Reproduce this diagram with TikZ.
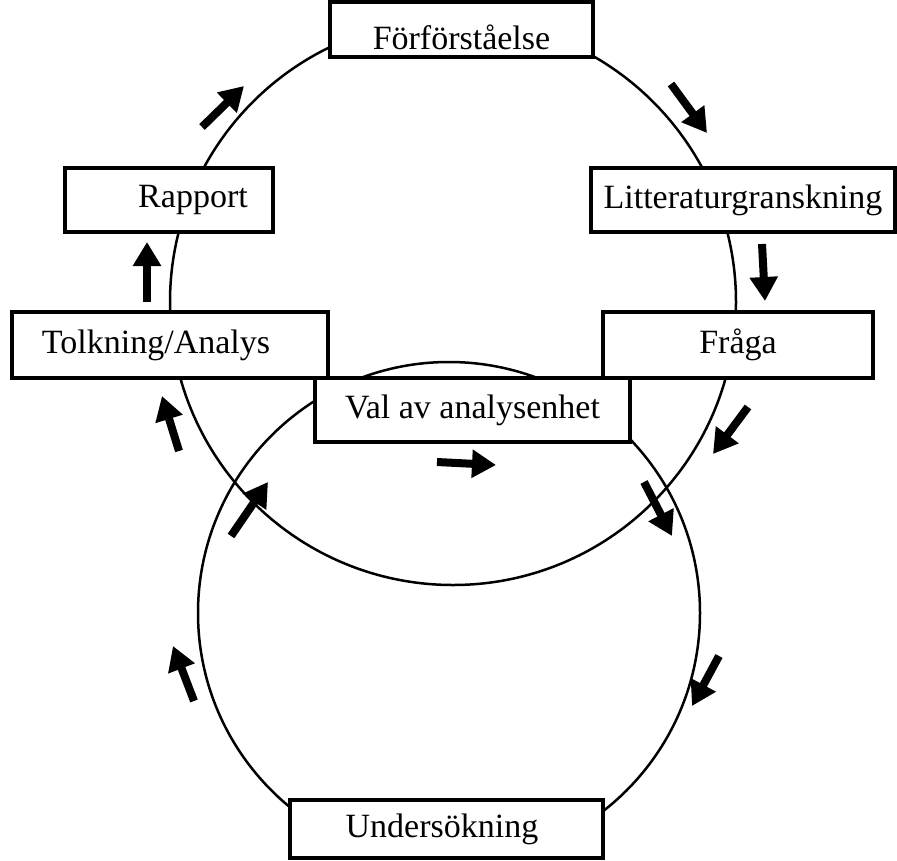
\documentclass[tikz,border=0pt]{standalone}
\usepackage{fontspec}
\setmainfont{Liberation Serif}
\usetikzlibrary{arrows.meta}
\begin{document}
\begin{tikzpicture}[x=1pt,y=-1pt,
  box/.style={draw,fill=white,line width=4pt,inner sep=0pt,rectangle,
    font=\fontsize{34}{40}\selectfont},
  ring/.style={draw,line width=2.5pt},
  blk/.style={line width=8pt,-{Triangle[length=24pt,width=27pt]}}]
\useasboundingbox (0,0) rectangle (897,860);
% cycles
\begin{scope}
\clip (0,0) rectangle (897,855);
\draw[ring] (453,302) circle[radius=283];
\draw[ring] (449,613) circle[radius=251];
\end{scope}
% boxes
\node[box,minimum width=263pt,minimum height=55pt] (forf) at (461.5,29.5) {\raisebox{-20pt}[0pt][0pt]{Förförståelse}};
\node[box,minimum width=208pt,minimum height=64pt] (rapp) at (169,200) {\hspace*{48pt}Rapport};
\node[box,minimum width=304pt,minimum height=64pt] (litt) at (743,200) {Litteraturgranskning};
\node[box,minimum width=316pt,minimum height=66pt] (tolk) at (170,345) {Tolkning/Analys\hspace*{28pt}};
\node[box,minimum width=270pt,minimum height=66pt] (fraga) at (738,345) {Fråga};
\node[box,minimum width=315pt,minimum height=64pt] (val) at (472.5,410) {Val av analysenhet};
\node[box,minimum width=313pt,minimum height=58pt] (unde) at (446.5,829) {Undersökning\hspace*{9pt}};
% arrows
\coordinate (a1t) at (202,127); \coordinate (a1h) at (244,86);
\coordinate (a2t) at (671,84);  \coordinate (a2h) at (707,133);
\coordinate (a3t) at (762,244); \coordinate (a3h) at (765,301);
\coordinate (a4t) at (147,302); \coordinate (a4h) at (147,242);
\coordinate (a5t) at (179,451); \coordinate (a5h) at (162,396);
\coordinate (a6t) at (437,462); \coordinate (a6h) at (496,465);
\coordinate (a7t) at (644,482); \coordinate (a7h) at (672,536);
\coordinate (a8t) at (194,701); \coordinate (a8h) at (173,646);
\coordinate (a9t) at (719,656); \coordinate (a9h) at (692,706);
\coordinate (a10t) at (748,407); \coordinate (a10h) at (713,454);
\coordinate (a11t) at (231,536); \coordinate (a11h) at (268,482);
\foreach \i in {1,...,11} {\draw[blk] (a\i t) -- (a\i h);}
\end{tikzpicture}
\end{document}
